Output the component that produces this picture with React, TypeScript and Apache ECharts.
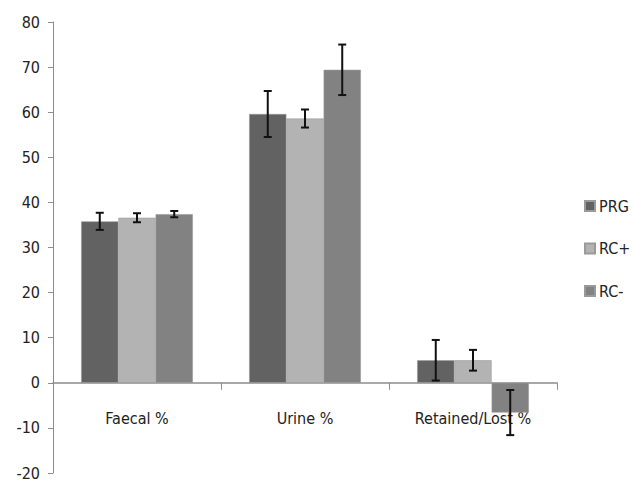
import React, { useEffect, useRef } from "react";
import * as echarts from "echarts";

const categories = ["Faecal %", "Urine %", "Retained/Lost %"];
const seriesNames = ["PRG", "RC+", "RC-"];
const prgValues = [35.8, 59.6, 5.0];
const rcPlusValues = [36.6, 58.6, 5.0];
const rcMinusValues = [37.4, 69.4, -6.6];
const prgErrors = [1.9, 5.1, 4.5];
const rcPlusErrors = [1.0, 2.0, 2.3];
const rcMinusErrors = [0.7, 5.6, 5.0];
const yTicks = { min: -20, max: 80, interval: 10 };
const colors = ["#626262", "#b3b3b3", "#828282"];

const FONT = "'DejaVu Sans Condensed', 'Liberation Sans Narrow', sans-serif";
const CAT_GAP = 0.335;
const GRID_TOP = 22;
const GRID_BOTTOM = 9;
const CHART_H = 482;

export default function App() {
  const ref = useRef<HTMLDivElement>(null);
  useEffect(() => {
    if (!ref.current) return;
    const chart = echarts.init(ref.current, null, { renderer: "svg" });
    const values = [prgValues, rcPlusValues, rcMinusValues];
    const errors = [prgErrors, rcPlusErrors, rcMinusErrors];

    // distance from grid bottom to the zero line, so the category axis sits at 0
    const gridH = CHART_H - GRID_TOP - GRID_BOTTOM;
    const zeroOffset = -gridH * ((0 - yTicks.min) / (yTicks.max - yTicks.min));

    const barSeries = seriesNames.map((name, i) => ({
      name,
      type: "bar",
      data: values[i],
      barGap: "0%",
      barCategoryGap: CAT_GAP * 100 + "%",
      itemStyle: { color: colors[i], borderColor: "#9a9a9a", borderWidth: 0.6 },
      z: 2,
    }));

    const errSeries = seriesNames.map((name, i) => ({
      name: "err-" + name,
      type: "custom",
      z: 5,
      encode: { x: 0, y: 1 },
      data: values[i].map((v, k) => [k, v, errors[i][k]]),
      renderItem: (params: any, api: any) => {
        const cat = api.value(0);
        const val = api.value(1);
        const err = api.value(2);
        const band = api.size([1, 0])[0];
        const barW = (band * (1 - CAT_GAP)) / 3;
        const base = api.coord([cat, val]);
        const x = base[0] + (i - 1) * barW;
        const top = api.coord([cat, val + err])[1];
        const bot = api.coord([cat, val - err])[1];
        const half = 4;
        const style = { stroke: "#111", lineWidth: 2 };
        return {
          type: "group",
          children: [
            { type: "line", shape: { x1: x, y1: top, x2: x, y2: bot }, style },
            { type: "line", shape: { x1: x - half, y1: top, x2: x + half, y2: top }, style },
            { type: "line", shape: { x1: x - half, y1: bot, x2: x + half, y2: bot }, style },
          ],
        };
      },
    }));

    chart.setOption({
      animation: false,
      backgroundColor: "#ffffff",
      grid: {
        left: 53,
        right: 75,
        top: GRID_TOP,
        bottom: GRID_BOTTOM,
        containLabel: false,
        outerBoundsMode: "none",
      },
      legend: {
        data: seriesNames,
        orient: "vertical",
        left: 584,
        top: 198,
        icon: "rect",
        itemWidth: 10,
        itemHeight: 10,
        itemGap: 26.5,
        padding: 0,
        textStyle: { fontFamily: FONT, fontSize: 16, color: "#222", padding: [0, 0, 0, -1] },
      },
      xAxis: {
        type: "category",
        data: categories,
        position: "bottom",
        offset: zeroOffset,
        axisLine: { onZero: false, lineStyle: { color: "#8c8c8c", width: 1.5 } },
        axisTick: { show: true, length: 7, lineStyle: { color: "#8c8c8c" } },
        axisLabel: { fontFamily: FONT, fontSize: 16, color: "#222", margin: 28, interval: 0 },
        splitLine: { show: false },
      },
      yAxis: {
        type: "value",
        min: yTicks.min,
        max: yTicks.max,
        interval: yTicks.interval,
        axisLine: { show: true, lineStyle: { color: "#8c8c8c" } },
        axisTick: { show: true, length: 5, lineStyle: { color: "#8c8c8c" } },
        axisLabel: { fontFamily: FONT, fontSize: 16, color: "#222", margin: 13 },
        splitLine: { show: false },
      },
      series: [...barSeries, ...errSeries],
    });
    return () => chart.dispose();
  }, []);
  return (
    <div
      ref={ref}
      style={{ position: "fixed", left: 0, top: 0, width: 632, height: CHART_H, background: "#fff" }}
    />
  );
}
